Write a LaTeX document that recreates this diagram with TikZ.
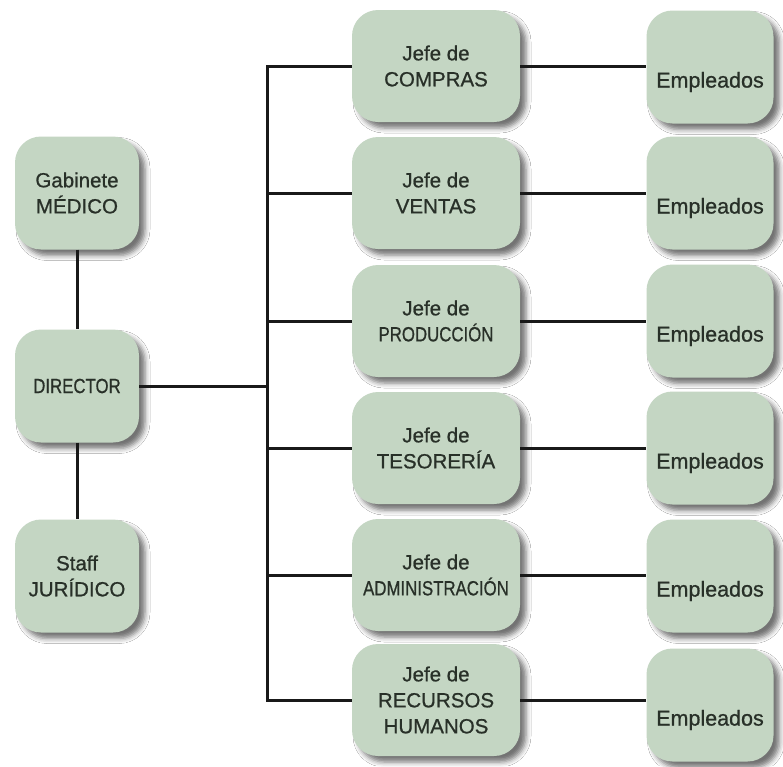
\documentclass[tikz,border=0pt]{standalone}
\usepackage{fontspec}
\setmainfont{Liberation Sans}
\newfontfamily\labelfont[FakeBold=0.8]{Liberation Sans}
\usetikzlibrary{shadows.blur}
\definecolor{boxfill}{RGB}{196,214,195}
\definecolor{boxtext}{RGB}{40,48,40}
\definecolor{wirecol}{RGB}{25,25,25}
% narrow capitals used for a few labels
\newcommand{\narrowcaps}[1]{\scalebox{0.82}[1]{#1}}

\begin{document}
\begin{tikzpicture}[x=1pt,y=-1pt,
  orgbox/.style={rectangle, rounded corners=26pt, fill=boxfill, draw=none,
    text=boxtext, align=center, inner sep=0pt,
    font=\labelfont\fontsize{20.5}{26}\selectfont,
    blur shadow={shadow xshift=6pt, shadow yshift=-6pt,
      shadow blur radius=5pt, shadow opacity=55}},
  leftbox/.style={orgbox, minimum width=124pt, minimum height=113pt},
  chiefbox/.style={orgbox, minimum width=168pt, minimum height=112pt},
  staffbox/.style={orgbox, minimum width=127pt, minimum height=113pt},
  stafftext/.style={text=boxtext, font=\labelfont\fontsize{21.5}{26}\selectfont, inner sep=0pt},
  wire/.style={draw=wirecol, line width=3pt}]

\useasboundingbox (0,0) rectangle (783,766);
\fill[white] (0,0) rectangle (783,766);

% left column
\node[leftbox] (med) at (77,193) {Gabinete\\MÉDICO};
\node[leftbox] (dir) at (77,386) {\narrowcaps{DIRECTOR}};
\node[leftbox] (jur) at (77,576) {Staff\\JURÍDICO};

% department heads
\node[chiefbox] (j1) at (436,66)  {Jefe de\\COMPRAS};
\node[chiefbox] (j2) at (436,193) {Jefe de\\VENTAS};
\node[chiefbox] (j3) at (436,321) {Jefe de\\\narrowcaps{PRODUCCIÓN}};
\node[chiefbox] (j4) at (436,448) {Jefe de\\TESORERÍA};
\node[chiefbox] (j5) at (436,575) {Jefe de\\\narrowcaps{ADMINISTRACIÓN}};
\node[chiefbox] (j6) at (436,700) {Jefe de\\RECURSOS\\HUMANOS};

% employee boxes
\foreach \i/\y in {1/67,2/193,3/321,4/448,5/576,6/705}{
  \node[staffbox] (e\i) at (710,\y) {};
  \node[stafftext] (et\i) at ([yshift=-15pt]e\i.center) {Empleados};
}

% connectors
\coordinate (busx) at (267,0);
\draw[wire] (med.south) -- (dir.north);
\draw[wire] (dir.south) -- (jur.north);
\draw[wire] (dir.east) -- (dir.east -| busx);
\draw[wire, line join=miter] (j1.west) -- (j1.west -| busx) -- (j6.west -| busx) -- (j6.west);
\foreach \i in {2,3,4,5}{
  \draw[wire] (j\i.west -| busx) -- (j\i.west);
}
\foreach \i in {1,...,6}{
  \draw[wire] (j\i.east) -- (j\i.east -| e\i.west);
}
\end{tikzpicture}
\end{document}
